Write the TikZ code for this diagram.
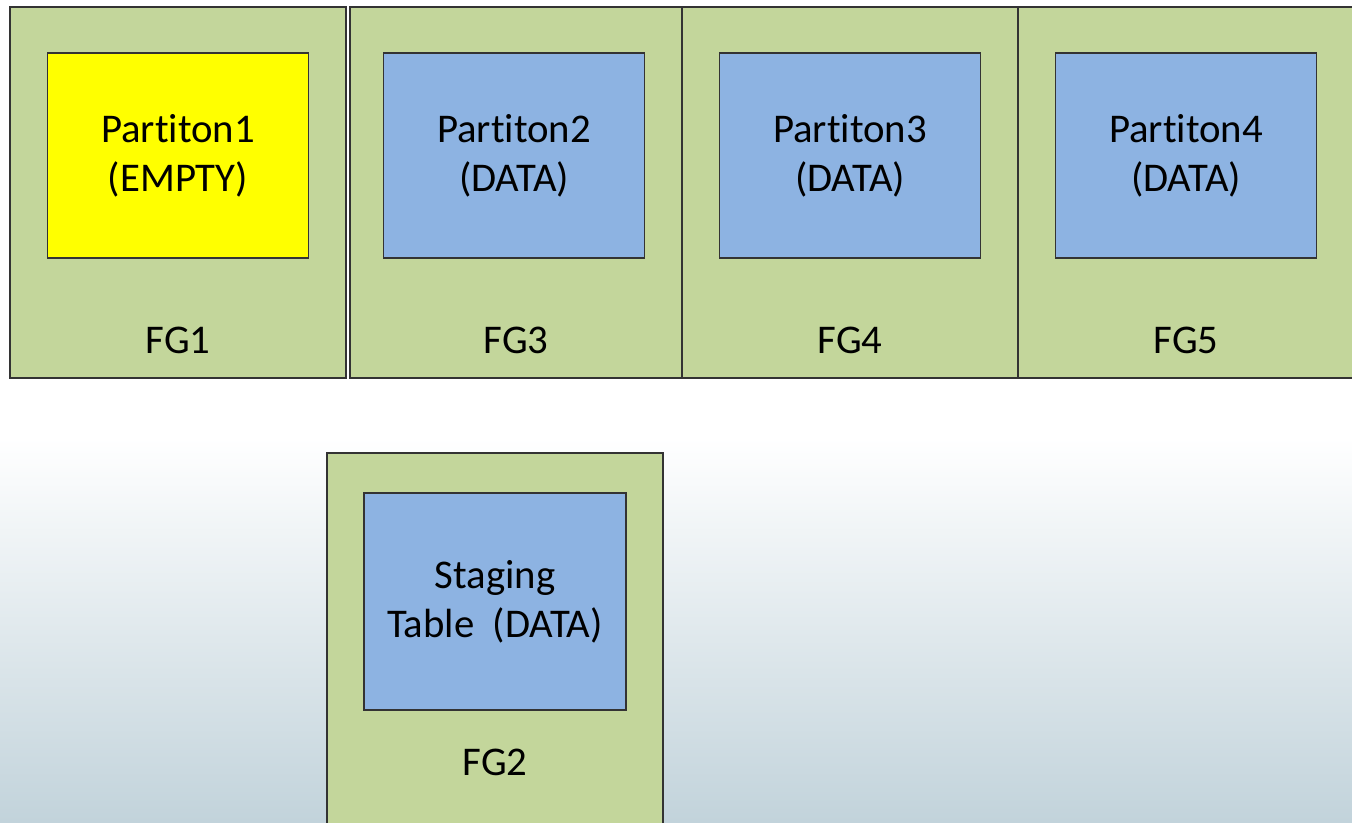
\documentclass[tikz,border=0pt]{standalone}
\usepackage{fontspec}
\setmainfont{Carlito}[Ligatures=NoCommon]
\usepackage{xcolor}
\usepackage{tikz}
\usetikzlibrary{positioning,calc}

\definecolor{fggreen}{HTML}{C3D69B}
\definecolor{partblue}{HTML}{8DB3E2}
\definecolor{partyellow}{HTML}{FFFF00}
\definecolor{slidebottom}{HTML}{C2D3DB}

\begin{document}
\begin{tikzpicture}[
    fg/.style={rectangle, draw=black!80, line width=0.6pt, fill=fggreen, minimum width=6.72cm, minimum height=7.42cm, inner sep=0pt},
    part/.style={rectangle, draw=black!80, line width=0.6pt, minimum width=5.22cm, minimum height=4.1cm, align=center, inner sep=0pt, font=\fontsize{23.2}{28}\selectfont},
    part_empty/.style={part, fill=partyellow},
    part_data/.style={part, fill=partblue},
    fglabel/.style={inner sep=0pt, font=\fontsize{23.2}{28}\selectfont},
]
\useasboundingbox (0,0) rectangle (27.04,16.44);
\clip (0,0) rectangle (27.04,16.44);
% slide background
\fill[white] (0,0) rectangle (27.04,16.44);
\shade[top color=white, bottom color=slidebottom] (0,0) rectangle (27.04,7.7);
% Row 1 (file groups with partitions)
\node[fg] (fg1) at (3.56,12.59) {};
\node[fg, minimum width=6.64cm] (fg3) at (10.32,12.59) {};
\node[fg] (fg4) at (17.00,12.59) {};
\node[fg] (fg5) at (23.72,12.59) {};
\node[part_empty, below=0.92cm of fg1.north] (p1) {Partiton1\\(EMPTY)};
\node[part_data, below=0.92cm of fg3.north, xshift=-0.04cm] (p2) {Partiton2\\(DATA)};
\node[part_data, below=0.92cm of fg4.north] (p3) {Partiton3\\(DATA)};
\node[part_data, below=0.92cm of fg5.north] (p4) {Partiton4\\(DATA)};
\node[fglabel] (l1) at ([yshift=-6.68cm]fg1.north) {FG1};
\node[fglabel] (l3) at ([yshift=-6.68cm]fg3.north) {FG3};
\node[fglabel] (l4) at ([yshift=-6.68cm]fg4.north) {FG4};
\node[fglabel] (l5) at ([yshift=-6.68cm]fg5.north) {FG5};
% Row 2 (staging file group)
\node[fg, minimum height=8cm] (fg2) at (9.90,3.38) {};
\node[part_data, minimum height=4.34cm, minimum width=5.24cm, below=0.8cm of fg2.north] (stage) {Staging\\Table~~(DATA)};
\node[fglabel] (l2) at ([yshift=-6.19cm]fg2.north) {FG2};
\end{tikzpicture}
\end{document}
